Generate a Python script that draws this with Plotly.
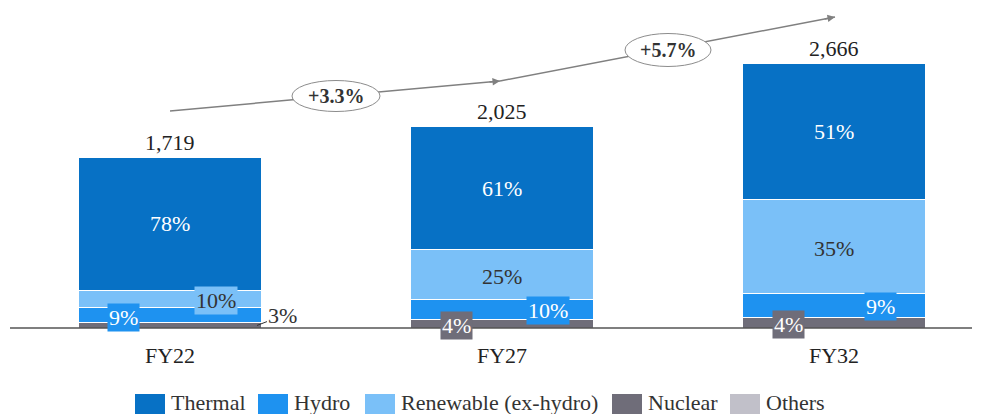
import plotly.graph_objects as go

# Datos del grafico
anios = ["FY22", "FY27", "FY32"]
totales = [1719, 2025, 2666]
series = ["Thermal", "Hydro", "Renewable (ex-hydro)", "Nuclear", "Others"]
termica = [78, 61, 51]
hidro = [9, 10, 9]
renovable = [10, 25, 35]
nuclear = [3, 4, 4]
otros = [0, 0, 0]
cagr = ["+3.3%", "+5.7%"]

# Colores
colores = {
    "Thermal": "#0771C5",
    "Hydro": "#1E92F0",
    "Renewable (ex-hydro)": "#7AC0F8",
    "Nuclear": "#6F6D79",
    "Others": "#C1C0C9",
}
FUENTE = "Liberation Serif"

# La pagina deja 8px de margen en el body: la figura se achica y se corre
OFF = 8
W, H = 982 - OFF, 414 - OFF
BASE_REF = 328          # linea base en pixeles de la imagen original
ALTO_PLOT = BASE_REF - OFF
ESCALA = 0.0994         # pixeles por unidad
CENTRO0 = 170 - OFF     # centro de la primera barra
PASO = 332              # distancia entre barras

partes = {
    "Thermal": termica,
    "Hydro": hidro,
    "Renewable (ex-hydro)": renovable,
    "Nuclear": nuclear,
    "Others": otros,
}

# Se normaliza para que el apilado llegue al total
suma = [sum(partes[s][i] for s in series) for i in range(len(anios))]
valores = {s: [totales[i] * partes[s][i] / suma[i] for i in range(len(anios))] for s in series}

# Orden del apilado (de abajo hacia arriba)
orden = ["Nuclear", "Hydro", "Renewable (ex-hydro)", "Thermal", "Others"]

fig = go.Figure()
for s in orden:
    fig.add_trace(go.Bar(
        x=anios,
        y=valores[s],
        name=s,
        marker=dict(color=colores[s], line=dict(color="white", width=1)),
        width=0.55,
        showlegend=False,
        hoverinfo="skip",
    ))

# Base de cada segmento para ubicar las etiquetas
base = {}
acum = [0, 0, 0]
for s in orden:
    base[s] = list(acum)
    acum = [acum[i] + valores[s][i] for i in range(len(anios))]


def medio(s, i):
    return base[s][i] + valores[s][i] / 2


def etiqueta(i, y, texto, dx=0, dy=0, color="white", fondo="rgba(0,0,0,0)"):
    fig.add_annotation(
        x=i, y=y, xref="x", yref="y", text=texto, showarrow=False,
        xanchor="center", yanchor="middle",
        xshift=dx, yshift=dy, bgcolor=fondo, borderpad=1,
        font=dict(size=22, color=color, family=FUENTE),
    )


for i in range(len(anios)):
    # Termica y renovable al centro
    etiqueta(i, medio("Thermal", i), f"{termica[i]}%")
    if i == 0:
        etiqueta(i, medio("Renewable (ex-hydro)", i), f"{renovable[i]}%", dx=46, dy=-2,
                 color="#333333", fondo=colores["Renewable (ex-hydro)"])
        etiqueta(i, medio("Hydro", i), f"{hidro[i]}%", dx=-47, dy=-2,
                 fondo=colores["Hydro"])
        # nuclear fuera de la barra con una linea corta
        fig.add_annotation(
            x=i + 0.262, y=medio("Nuclear", i), xref="x", yref="y",
            text=f"{nuclear[i]}%", showarrow=True, arrowhead=0, arrowwidth=1,
            arrowcolor="#333333", ax=26, ay=-10, standoff=0,
            font=dict(size=22, color="#333333", family=FUENTE),
        )
    else:
        etiqueta(i, medio("Renewable (ex-hydro)", i), f"{renovable[i]}%", dy=-2, color="#333333")
        etiqueta(i, medio("Hydro", i), f"{hidro[i]}%", dx=46, dy=-1,
                 fondo=colores["Hydro"])
        etiqueta(i, medio("Nuclear", i), f"{nuclear[i]}%", dx=-46, dy=-2,
                 fondo=colores["Nuclear"])
    # Total arriba de la barra
    fig.add_annotation(
        x=i, y=totales[i], xref="x", yref="y", text=f"{totales[i]:,}",
        showarrow=False, yanchor="middle", yshift=15,
        font=dict(size=22, color="#222222", family=FUENTE),
    )


# Conversion de pixeles (de la imagen original) a coordenadas paper
def px(xp):
    return (xp - OFF) / W


def py(yp):
    return (BASE_REF - yp) / ALTO_PLOT


# Linea base
fig.add_shape(type="line", xref="paper", yref="paper", x0=px(10), x1=px(972),
              y0=0, y1=0, line=dict(color="#555555", width=1.5))

# Flechas de crecimiento
tramos = [((170, 111), (500, 81)), ((500, 81), (835, 17))]
for (x0, y0), (x1, y1) in tramos:
    fig.add_shape(type="line", xref="paper", yref="paper",
                  x0=px(x0), y0=py(y0), x1=px(x1), y1=py(y1),
                  line=dict(color="#808080", width=1.5))
    largo = ((x1 - x0) ** 2 + (y1 - y0) ** 2) ** 0.5
    fig.add_annotation(
        x=px(x1), y=py(y1), xref="paper", yref="paper", text="",
        showarrow=True, arrowhead=2, arrowsize=1, arrowwidth=1.5, arrowcolor="#808080",
        ax=-12 * (x1 - x0) / largo, ay=-12 * (y1 - y0) / largo, standoff=0,
    )

# Elipses con el crecimiento
elipses = [(336, 96, 88, 31), (668, 50, 86, 33)]
for (cx, cy, ew, eh), txt in zip(elipses, cagr):
    fig.add_shape(type="circle", xref="paper", yref="paper",
                  x0=px(cx - ew / 2), x1=px(cx + ew / 2),
                  y0=py(cy + eh / 2), y1=py(cy - eh / 2),
                  line=dict(color="#8c8c8c", width=1), fillcolor="white")
    fig.add_annotation(x=px(cx), y=py(cy), xref="paper", yref="paper", text=f"<b>{txt}</b>",
                       showarrow=False, xanchor="center", yanchor="middle",
                       font=dict(size=20, color="#333333", family=FUENTE))

# Leyenda manual (cuadros grandes como en el original)
leyenda_x = [135, 258, 365, 612, 730]
for s, lx in zip(series, leyenda_x):
    fig.add_shape(type="rect", xref="paper", yref="paper",
                  x0=px(lx), x1=px(lx + 30), y0=py(394), y1=py(416),
                  line=dict(width=0), fillcolor=colores[s])
    fig.add_annotation(x=px(lx + 34), y=py(402), xref="paper", yref="paper", text=s,
                       showarrow=False, xanchor="left", yanchor="middle",
                       font=dict(size=22, color="#333333", family=FUENTE))

fig.update_layout(
    barmode="stack",
    width=W,
    height=H,
    margin=dict(l=0, r=0, t=0, b=H - ALTO_PLOT),
    plot_bgcolor="white",
    paper_bgcolor="white",
    font=dict(family=FUENTE, size=22, color="#222222"),
    xaxis=dict(type="category", range=[-CENTRO0 / PASO, (W - CENTRO0) / PASO], showgrid=False,
               showline=False, zeroline=False, ticks="", ticklabelstandoff=12,
               tickfont=dict(size=22, color="#222222", family=FUENTE)),
    yaxis=dict(range=[0, ALTO_PLOT / ESCALA], visible=False, showgrid=False, zeroline=False),
    showlegend=False,
)

fig.write_html("out.html")
